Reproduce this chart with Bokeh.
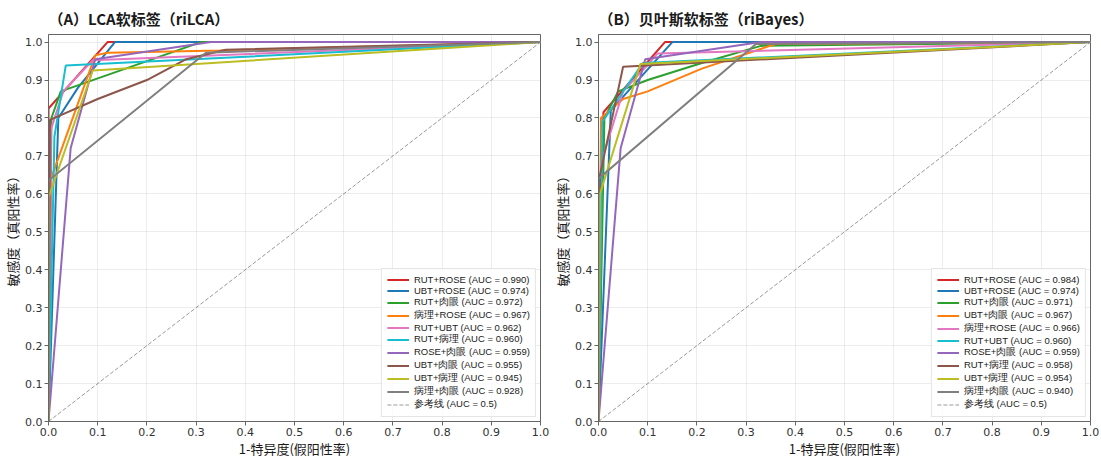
from bokeh.plotting import figure
from bokeh.layouts import row
from bokeh.models import Legend, LegendItem, Range1d, FixedTicker, PrintfTickFormatter
from bokeh.embed import file_html
from bokeh.resources import INLINE

# ---- panel A: LCA soft labels ----
lca_names = ["RUT+ROSE", "UBT+ROSE", "RUT+肉眼", "病理+ROSE", "RUT+UBT",
             "RUT+病理", "ROSE+肉眼", "UBT+肉眼", "UBT+病理", "病理+肉眼"]
lca_auc = [0.990, 0.974, 0.972, 0.967, 0.962, 0.960, 0.959, 0.955, 0.945, 0.928]
lca_fpr = [
    [0, 0, 0.12, 1],
    [0, 0.02, 0.06, 0.135, 1],
    [0, 0.006, 0.025, 0.31, 1],
    [0, 0.005, 0.095, 0.12, 0.35, 1],
    [0, 0.005, 0.03, 0.09, 1],
    [0, 0.012, 0.035, 1],
    [0, 0.045, 0.095, 0.33, 1],
    [0, 0.003, 0.1, 0.2, 0.28, 0.36, 1],
    [0, 0, 0.09, 1],
    [0, 0, 0.32, 1],
]
lca_tpr = [
    [0, 0.825, 1.0, 1],
    [0, 0.80, 0.88, 1.0, 1],
    [0, 0.80, 0.87, 1.0, 1],
    [0, 0.64, 0.965, 0.972, 0.978, 1],
    [0, 0.77, 0.87, 0.952, 1],
    [0, 0.75, 0.938, 1],
    [0, 0.72, 0.955, 1.0, 1],
    [0, 0.795, 0.85, 0.90, 0.955, 0.98, 1],
    [0, 0.59, 0.925, 1],
    [0, 0.635, 0.972, 1],
]

# ---- panel B: Bayesian soft labels ----
bayes_names = ["RUT+ROSE", "UBT+ROSE", "RUT+肉眼", "UBT+肉眼", "病理+ROSE",
               "RUT+UBT", "ROSE+肉眼", "RUT+病理", "UBT+病理", "病理+肉眼"]
bayes_auc = [0.984, 0.974, 0.971, 0.967, 0.966, 0.960, 0.959, 0.958, 0.954, 0.940]
bayes_fpr = [
    [0, 0.01, 0.135, 1],
    [0, 0.025, 0.15, 1],
    [0, 0.012, 0.04, 0.1, 0.21, 0.33, 1],
    [0, 0.005, 0.05, 0.1, 0.21, 0.36, 1],
    [0, 0.005, 0.05, 0.1, 0.12, 1],
    [0, 0.008, 0.09, 1],
    [0, 0.045, 0.095, 0.33, 1],
    [0, 0.003, 0.05, 1],
    [0, 0.003, 0.085, 1],
    [0, 0, 0.32, 1],
]
bayes_tpr = [
    [0, 0.815, 1.0, 1],
    [0, 0.82, 1.0, 1],
    [0, 0.80, 0.87, 0.90, 0.945, 0.99, 1],
    [0, 0.80, 0.85, 0.87, 0.93, 0.995, 1],
    [0, 0.68, 0.87, 0.94, 0.97, 1],
    [0, 0.79, 0.945, 1],
    [0, 0.72, 0.955, 1.0, 1],
    [0, 0.65, 0.935, 1],
    [0, 0.60, 0.942, 1],
    [0, 0.64, 0.995, 1],
]

# chance diagonal
ref_x = [0.0, 1.0]
ref_y = [0.0, 1.0]
ref_label = "参考线 (AUC = 0.5)"

ticks = [0.0, 0.1, 0.2, 0.3, 0.4, 0.5, 0.6, 0.7, 0.8, 0.9, 1.0]

colors = ["#d62728", "#1f77b4", "#2ca02c", "#ff7f0e", "#e377c2",
          "#17becf", "#9467bd", "#8c564b", "#bcbd22", "#7f7f7f"]

CJK = "Noto Sans CJK SC"


def roc_panel(title, names, auc, fpr, tpr, width, border_right):
    p = figure(width=width, height=460,
               x_range=Range1d(0, 1), y_range=Range1d(0, 1.02),
               output_backend="svg", toolbar_location=None,
               min_border_left=47, min_border_right=border_right,
               min_border_top=33, min_border_bottom=37)
    p.title.text = title
    p.title.text_font = CJK
    p.title.text_font_size = "15px"
    p.title.text_font_style = "bold"
    p.title.text_color = "#1a1a1a"
    p.title.align = "left"
    p.title.standoff = 11

    for ax, lab in ((p.xaxis, "1-特异度(假阳性率)"), (p.yaxis, "敏感度（真阳性率）")):
        ax.ticker = FixedTicker(ticks=ticks)
        ax.formatter = PrintfTickFormatter(format="%.1f")
        ax.axis_label = lab
        ax.axis_label_text_font = CJK
        ax.axis_label_text_font_size = "13px"
        ax.axis_label_text_font_style = "normal"
        ax.axis_label_text_color = "#1a1a1a"
        ax.axis_label_standoff = 0
        ax.major_label_text_font = "DejaVu Sans"
        ax.major_label_text_font_size = "11px"
        ax.major_label_text_color = "#333333"
        ax.major_label_standoff = 2
        ax.major_tick_out = 4
        ax.major_tick_in = 0
        ax.minor_tick_line_color = None
        ax.axis_line_color = "#666666"
        ax.major_tick_line_color = "#666666"

    for g in (p.xgrid, p.ygrid):
        g.ticker = FixedTicker(ticks=ticks)
        g.grid_line_color = "#b0b0b0"
        g.grid_line_alpha = 0.3
        g.grid_line_width = 0.8

    p.outline_line_color = "#666666"
    p.outline_line_width = 1

    items = []
    for i in range(len(names)):
        r = p.line(fpr[i], tpr[i], line_color=colors[i], line_width=2)
        items.append(LegendItem(label=f"{names[i]} (AUC = {auc[i]:.3f})", renderers=[r]))
    rr = p.line(ref_x, ref_y, line_color="#808080", line_width=1,
                line_dash="4 2", line_alpha=0.8)
    items.append(LegendItem(label=ref_label, renderers=[rr]))

    leg = Legend(items=items, location="bottom_right")
    leg.label_text_font = "Liberation Sans"
    leg.label_text_font_size = "9.5px"
    leg.label_text_color = "#1a1a1a"
    leg.glyph_width = 22
    leg.glyph_height = 11
    leg.label_height = 11
    leg.spacing = 0
    leg.padding = 5
    leg.margin = 4
    leg.label_standoff = 5
    leg.border_line_color = "#cccccc"
    leg.background_fill_alpha = 0.8
    p.add_layout(leg)
    return p


pa = roc_panel("（A）LCA软标签（riLCA）", lca_names, lca_auc, lca_fpr, lca_tpr, 550, 10)
pb = roc_panel("（B）贝叶斯软标签（riBayes）", bayes_names, bayes_auc, bayes_fpr, bayes_tpr, 551, 11)

layout = row(pa, pb)
open("out.html", "w").write(file_html(layout, INLINE))
